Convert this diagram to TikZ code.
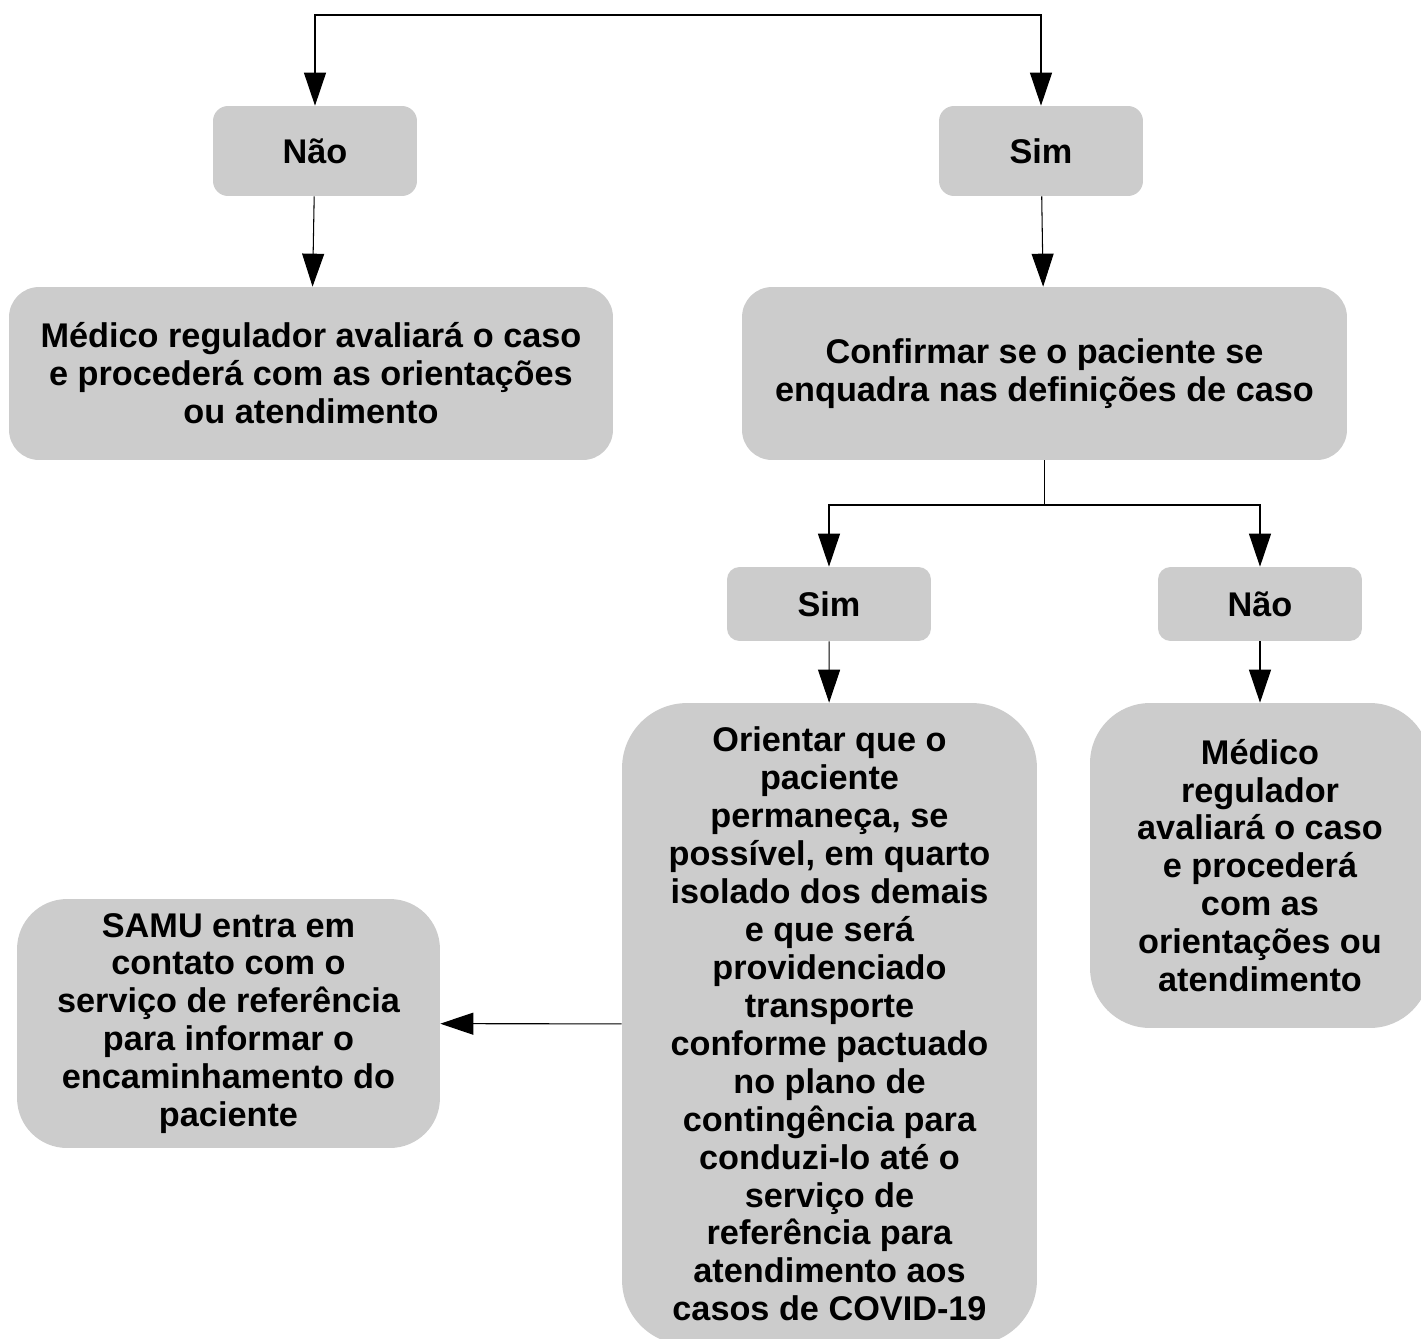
\documentclass[tikz,border=0pt]{standalone}
\usepackage{fontspec}
\setmainfont{Liberation Sans}
\usepackage{tikz}
\usetikzlibrary{arrows.meta}
\definecolor{boxgray}{HTML}{CCCCCC}
\tikzset{>/.tip={Triangle[length=6.6mm,width=4.4mm]},
  box/.style={fill=boxgray, align=center, inner sep=0pt,
    font=\fontsize{19.5}{21.6}\selectfont\bfseries},
  link/.style={line width=0.6pt}}

\begin{document}
\begin{tikzpicture}[x=0.02cm, y=-0.02cm]
\useasboundingbox (0,0) rectangle (1421,1339);
\node[box, minimum width=4.08cm, minimum height=1.8cm, rounded corners=0.3cm] (nao1) at (315,151) {Não};
\node[box, minimum width=4.08cm, minimum height=1.8cm, rounded corners=0.3cm] (sim1) at (1041,151) {Sim};
\node[box, minimum width=12.08cm, minimum height=3.46cm, rounded corners=0.6cm] (medico1) at (311,373.5)
  {Médico regulador avaliará o caso\\e procederá com as orientações\\ou atendimento};
\node[box, minimum width=12.1cm, minimum height=3.46cm, rounded corners=0.6cm] (conf) at (1044.5,373.5)
  {Confirmar se o paciente se\\enquadra nas definições de caso};
\node[box, minimum width=4.08cm, minimum height=1.48cm, rounded corners=0.25cm] (sim2) at (829,604) {Sim};
\node[box, minimum width=4.08cm, minimum height=1.48cm, rounded corners=0.25cm] (nao2) at (1260,604) {Não};
\node[box, minimum width=8.3cm, minimum height=12.84cm, rounded corners=1.3cm] (orient) at (829.5,1024)
  {Orientar que o\\paciente\\permaneça, se\\possível, em quarto\\isolado dos demais\\e que será\\providenciado\\transporte\\conforme pactuado\\no plano de\\contingência para\\conduzi-lo até o\\serviço de\\referência para\\atendimento aos\\casos de COVID-19};
\node[box, minimum width=6.8cm, minimum height=6.5cm, rounded corners=1.2cm] (medico2) at (1260,865.5)
  {Médico\\regulador\\avaliará o caso\\e procederá\\com as\\orientações ou\\atendimento};
\node[box, minimum width=8.46cm, minimum height=4.98cm, rounded corners=1cm] (samu) at (228.5,1023.5)
  {SAMU entra em\\contato com o\\serviço de referência\\para informar o\\encaminhamento do\\paciente};
\coordinate (top) at (678,15);
\coordinate (fork) at (1044.5,505);
\draw[link,->] (top) -| (nao1);
\draw[link,->] (top) -| (sim1);
\draw[link,->] (nao1) -- (medico1);
\draw[link,->] (sim1) -- (conf);
\draw[link] (conf) -- (fork);
\draw[link,->] (fork) -| (sim2);
\draw[link,->] (fork) -| (nao2);
\draw[link,->] (sim2) -- (orient);
\draw[link,->] (nao2) -- (medico2);
\draw[link,->] (orient) -- (samu);
\end{tikzpicture}
\end{document}
